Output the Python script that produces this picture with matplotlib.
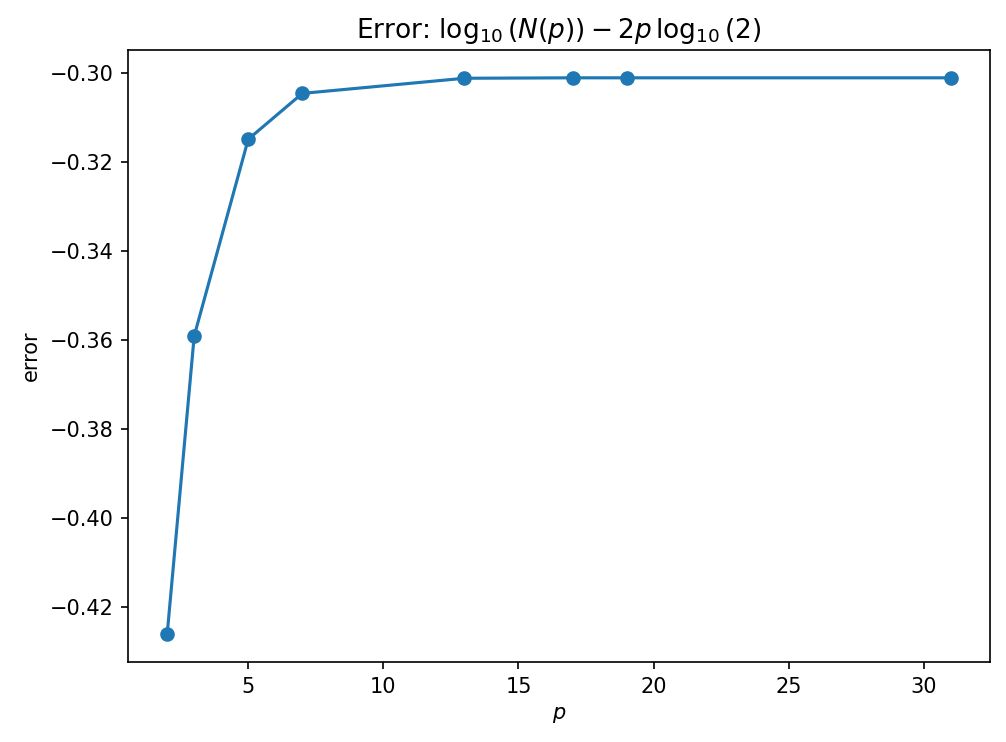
import matplotlib
matplotlib.use("Agg")
import matplotlib.pyplot as plt

# Mersenne exponents and the error values
p_values = [2, 3, 5, 7, 13, 17, 19, 31]
errors = [-0.4260, -0.3590, -0.3148, -0.3045, -0.3011, -0.3010, -0.3010, -0.3010]

fig = plt.figure(figsize=(1006 / 150, 742 / 150), dpi=150)
ax = fig.add_axes([128 / 1006, 80 / 742, 862 / 1006, 612 / 742])
ax.plot(p_values, errors, marker="o")
ax.set_xlabel(r"$p$")
ax.set_ylabel("error")
ax.set_title(r"Error: $\log_{10}(N(p)) - 2p\,\log_{10}(2)$", fontsize=12.7)
fig.savefig("out.png", dpi=150)
